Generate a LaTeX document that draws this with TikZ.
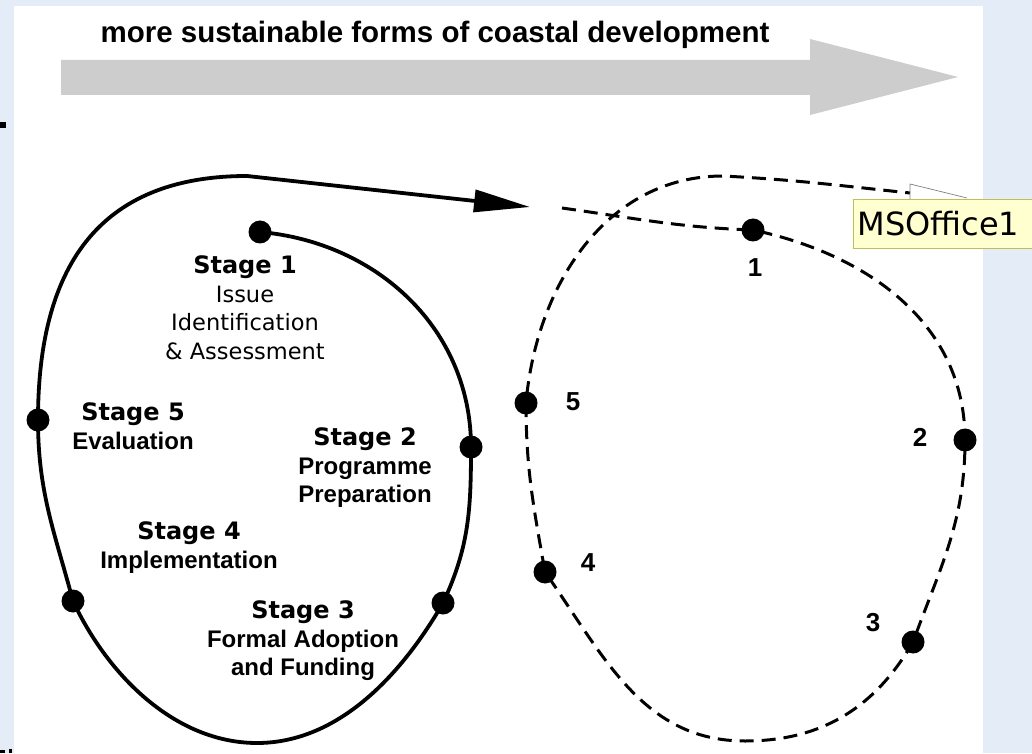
\documentclass[tikz,border=0pt]{standalone}
\usepackage{fontspec}
\setmainfont{Liberation Sans}
\newfontfamily\verdfont{DejaVu Sans}
\usetikzlibrary{arrows.meta}
\definecolor{bgblue}{RGB}{228,236,247}
\definecolor{arrowgray}{RGB}{205,205,205}
\definecolor{tipyellow}{RGB}{255,255,208}
\definecolor{tipborder}{RGB}{190,190,90}
\begin{document}
\begin{tikzpicture}[x=1pt, y=1pt,
      dot/.style={circle, fill=black, inner sep=0pt, minimum size=23pt},
      stagetext/.style={align=center, inner sep=0pt, anchor=north, font=\fontsize{24}{28.5}\selectfont\bfseries},
      numtext/.style={inner sep=0pt, font=\fontsize{26}{28}\selectfont\bfseries},
      solidloop/.style={line width=3.8pt},
      dashloop/.style={line width=3pt, dash pattern=on 14pt off 8pt},
      tipbox/.style={draw=tipborder, fill=tipyellow, line width=0.8pt, inner xsep=4pt, inner ysep=0pt, minimum height=49pt, text width=172pt, align=left, font=\verdfont\fontsize{32}{34}\selectfont}]
      \useasboundingbox (0,0) rectangle (1032,753);
      % Background
      \fill[bgblue] (0,0) rectangle (1032,753);
      \fill[white] (14,0) rectangle (983,747);
      \fill[black] (0,625) rectangle (6,631);
      \fill[black] (0,0) rectangle (5,3);
      \fill[black] (9,0) rectangle (12,4);
      % Grey arrow
      \fill[arrowgray] (61,693) -- (810,693) -- (810,714) -- (958,676) -- (810,638) -- (810,658) -- (61,658) -- cycle;
      \node[anchor=base, font=\fontsize{29.5}{34}\selectfont\bfseries] (title) at (435,710) {more sustainable forms of coastal development};

      % Left cycle
      \node (s1) [dot] at (260,521) {};
      \node (s2) [dot] at (471,306) {};
      \node (s3) [dot] at (443,150) {};
      \node (s4) [dot] at (73,152) {};
      \node (s5) [dot] at (38,333) {};
      \coordinate (lbot) at (257,10);
      \coordinate (ltop) at (247,577);
      \coordinate (ltip) at (530,546);
      \draw[solidloop, -{Triangle[length=56pt, width=22pt]}]
        (s1.center) to[out=-5, in=90] (s2.center)
        to[out=-90, in=65] (s3.center)
        to[out=-120, in=0, looseness=0.9] (lbot)
        to[out=180, in=-65, looseness=0.9] (s4.center)
        to[out=105, in=-90] (s5.center)
        to[out=90, in=180, looseness=1.2] (ltop)
        -- (ltip);
      \node (t1) [stagetext] at (245,497.5) {{\verdfont Stage 1}\\{\verdfont\mdseries\fontsize{22.5}{28.5}\selectfont Issue}\\{\verdfont\mdseries\fontsize{22.5}{28.5}\selectfont Identification}\\{\verdfont\mdseries\fontsize{22.5}{28.5}\selectfont \& Assessment}};
      \node (t5) [stagetext] at (133,350.5) {{\verdfont Stage 5}\\Evaluation};
      \node (t2) [stagetext] at (365,325.5) {{\verdfont Stage 2}\\Programme\\Preparation};
      \node (t4) [stagetext] at (189,231.5) {{\verdfont Stage 4}\\Implementation};
      \node (t3) [stagetext] at (303,152.5) {{\verdfont Stage 3}\\Formal Adoption\\and Funding};

      % Right cycle
      \node (r1) [dot] at (753,523) {};
      \node (r2) [dot] at (965,313) {};
      \node (r3) [dot] at (913,111) {};
      \node (r4) [dot] at (545,181) {};
      \node (r5) [dot] at (526,350) {};
      \coordinate (rstart) at (562,545);
      \coordinate (rbot) at (745,12);
      \coordinate (rtop) at (723,577);
      \coordinate (rend) at (910,560);
      \draw[dashloop]
        (rstart) to[out=-8, in=178] (r1.center)
        to[out=-12, in=90] (r2.center)
        to[out=-90, in=70] (r3.center)
        to[out=-120, in=0] (rbot)
        to[out=180, in=-55] (r4.center)
        to[out=100, in=-90] (r5.center)
        to[out=85, in=180] (rtop)
        to[out=-3, in=174] (rend);
      \node (n1) [numtext] at (755,485) {1};
      \node (n2) [numtext] at (920,316) {2};
      \node (n3) [numtext] at (873,130) {3};
      \node (n4) [numtext] at (588,190) {4};
      \node (n5) [numtext] at (573,351) {5};

      % Comment marker
      \node (tip) [tipbox, anchor=north west] at (853,554) {MSOffice1};
      \coordinate (pa) at (910,554);
      \coordinate (pb) at (910,569);
      \coordinate (pc) at (967,555);
      \draw[gray, line width=0.7pt] (pa) -- (pb) -- (pc);
    \end{tikzpicture}
\end{document}
